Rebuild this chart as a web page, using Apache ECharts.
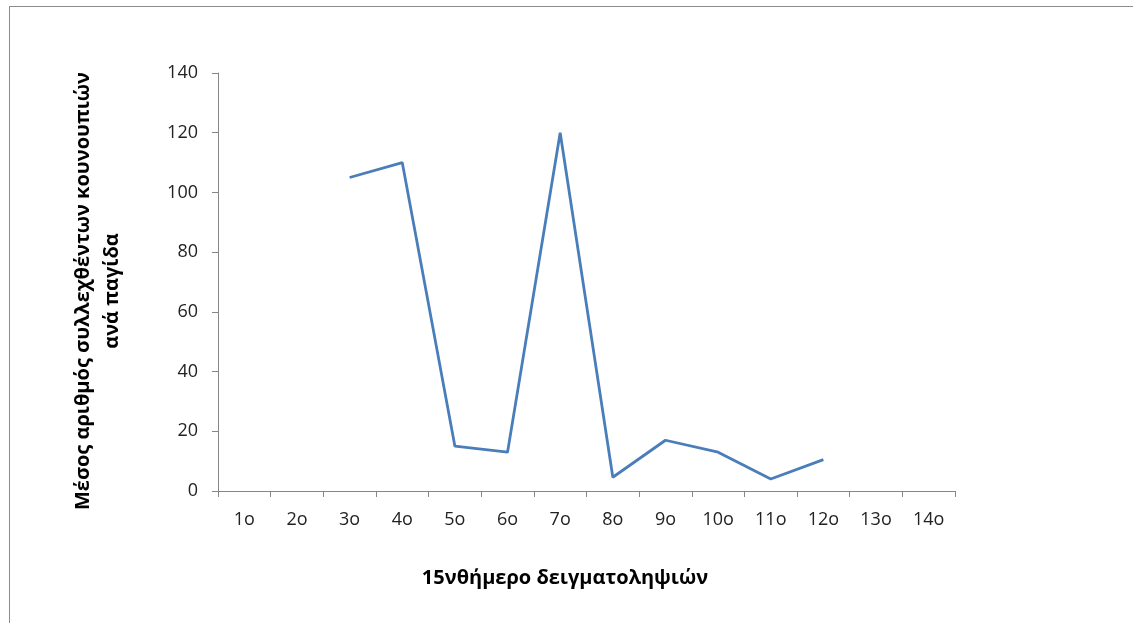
<!DOCTYPE html>
<html>
<head>
<meta charset="utf-8">
<script src="https://cdn.jsdelivr.net/npm/echarts@6/dist/echarts.min.js"></script>
<style>
  html, body { margin: 0; padding: 0; background: #fff; overflow: hidden; }
  #frame {
    position: absolute; left: 9px; top: 6px; width: 1300px; height: 800px;
    border-top: 1px solid #8c8c8c; border-left: 1px solid #8c8c8c;
  }
  #chart { position: absolute; left: 0; top: 0; width: 1133px; height: 623px; }
</style>
</head>
<body>
<div id="frame"></div>
<div id="chart"></div>
<script>
// categories and values
const periods = ['1o', '2o', '3o', '4o', '5o', '6o', '7o', '8o', '9o', '10o', '11o', '12o', '13o', '14o']
const meanCount = [null, null, 105, 110, 15, 13, 120, 4.6, 17, 13, 4, 10.5, null, null]

const yTitle = 'Μέσος αριθμός συλλεχθέντων κουνουπιών\nανά παγίδα'
const xTitle = '15νθήμερο δειγματοληψιών'

const fontFam = '"Open Sans", "Noto Sans", sans-serif'
const axisGray = '#868686'

const chart = echarts.init(document.getElementById('chart'))
chart.setOption({
  animation: false,
  grid: { left: 218, right: 178, top: 73, bottom: 132 },
  xAxis: {
    type: 'category',
    data: periods,
    boundaryGap: true,
    axisLine: { lineStyle: { color: axisGray, width: 1 } },
    axisTick: { show: true, inside: false, length: 6, lineStyle: { color: axisGray } },
    axisLabel: { color: '#222', fontSize: 18, fontFamily: fontFam, margin: 20 },
    splitLine: { show: false }
  },
  yAxis: {
    type: 'value',
    min: 0,
    max: 140,
    interval: 20,
    axisLine: { show: true, lineStyle: { color: axisGray, width: 1 } },
    axisTick: { show: true, length: 6, lineStyle: { color: axisGray } },
    axisLabel: { color: '#222', fontSize: 18, fontFamily: fontFam, margin: 20 },
    splitLine: { show: false }
  },
  graphic: [
    {
      type: 'text',
      x: 98, y: 291, rotation: Math.PI / 2,
      style: {
        text: yTitle,
        fontSize: 20, fontWeight: 'bold', fontFamily: fontFam,
        fill: '#000', align: 'center', verticalAlign: 'middle', lineHeight: 29
      }
    },
    {
      type: 'text',
      x: 565, y: 578,
      style: {
        text: xTitle,
        fontSize: 20, fontWeight: 'bold', fontFamily: fontFam,
        fill: '#000', align: 'center', verticalAlign: 'middle'
      }
    }
  ],
  series: [
    {
      type: 'line',
      data: meanCount,
      connectNulls: false,
      symbol: 'none',
      lineStyle: { color: '#4a7ebb', width: 2.8 }
    }
  ]
})
</script>
</body>
</html>
